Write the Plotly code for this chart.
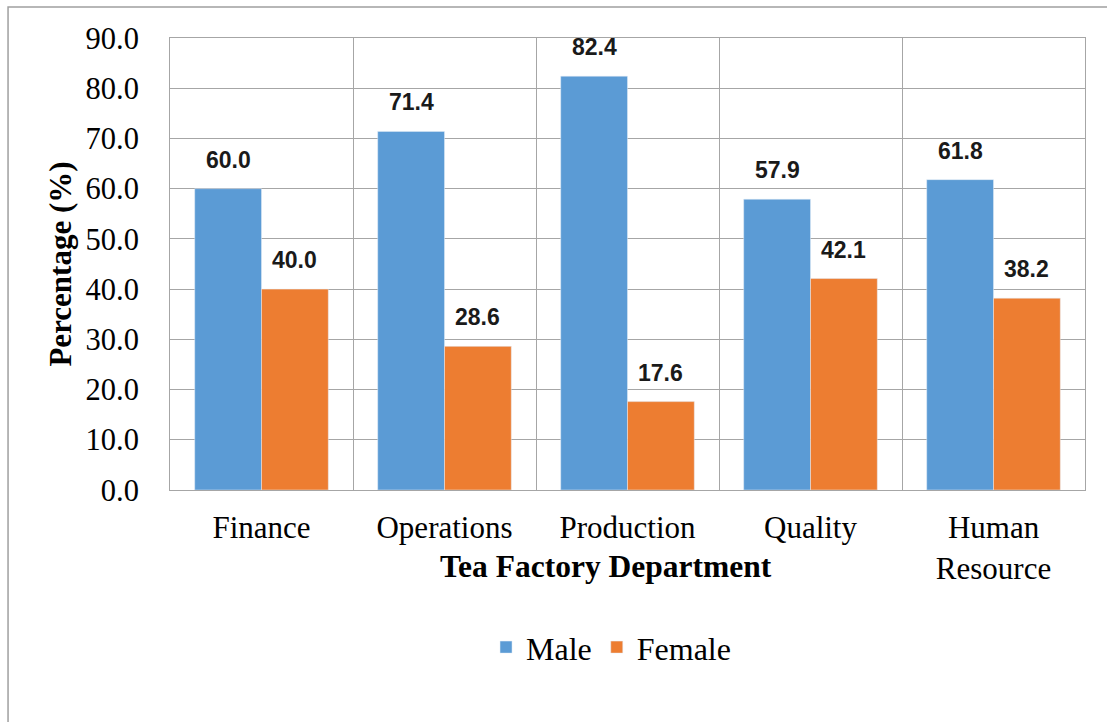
import plotly.graph_objects as go

departments = ["Finance", "Operations", "Production", "Quality", "Human<br>Resource"]
male = [60.0, 71.4, 82.4, 57.9, 61.8]
female = [40.0, 28.6, 17.6, 42.1, 38.2]

BLUE = "#5B9BD5"
ORANGE = "#ED7D31"
GRID = "#A6A6A6"
SERIF = "Liberation Serif"

fig = go.Figure()
fig.add_trace(go.Bar(x=departments, y=male, name="Male", marker_color=BLUE))
fig.add_trace(go.Bar(x=departments, y=female, name="Female", marker_color=ORANGE))

# data labels above each bar
bar_px = 66
for vals, shift in ((male, -bar_px / 2), (female, bar_px / 2)):
    for d, v in zip(departments, vals):
        fig.add_annotation(x=d, y=v, text=f"<b>{v:.1f}</b>", showarrow=False,
                           xshift=shift, yshift=29, yanchor="middle",
                           font=dict(family="Liberation Sans", size=23, color="#1a1a1a"))

# x axis title as annotation
fig.add_annotation(x=0.476, y=-0.17, xref="paper", yref="paper", yanchor="middle",
                   text="<b>Tea Factory Department</b>", showarrow=False,
                   font=dict(family=SERIF, size=31.5, color="black"))

# outer border
fig.add_shape(type="rect", xref="paper", yref="paper",
              x0=-0.177, x1=1.05, y0=-0.6, y1=1.0686,
              line=dict(color="#A0A0A0", width=1.5), layer="below")

fig.update_layout(
    width=1107, height=722,
    margin=dict(l=170, r=22, t=38, b=232),
    paper_bgcolor="white", plot_bgcolor="white",
    font=dict(family=SERIF, color="black"),
    barmode="group", bargap=0.27, bargroupgap=0,
    showlegend=True,
    legend=dict(orientation="h", x=0.482, xanchor="center", y=-0.348, yanchor="middle",
                font=dict(family=SERIF, size=32, color="black"),
                traceorder="normal"),
    xaxis=dict(type="category", tickson="boundaries", showgrid=True, gridcolor=GRID,
               gridwidth=1, showline=True, linecolor=GRID, mirror=True, ticks="",
               ticklabelstandoff=10,
               tickfont=dict(family=SERIF, size=31, color="black")),
    yaxis=dict(range=[0, 90], dtick=10, tickformat=".1f", showgrid=True, gridcolor=GRID,
               gridwidth=1, showline=True, linecolor=GRID, mirror=True, ticks="",
               ticklabelstandoff=24, zeroline=False,
               tickfont=dict(family=SERIF, size=30.5, color="black"),
               title=dict(text="<b>Percentage (%)</b>", standoff=4,
                          font=dict(family=SERIF, size=31, color="black"))),
)

fig.write_html("out.html")
